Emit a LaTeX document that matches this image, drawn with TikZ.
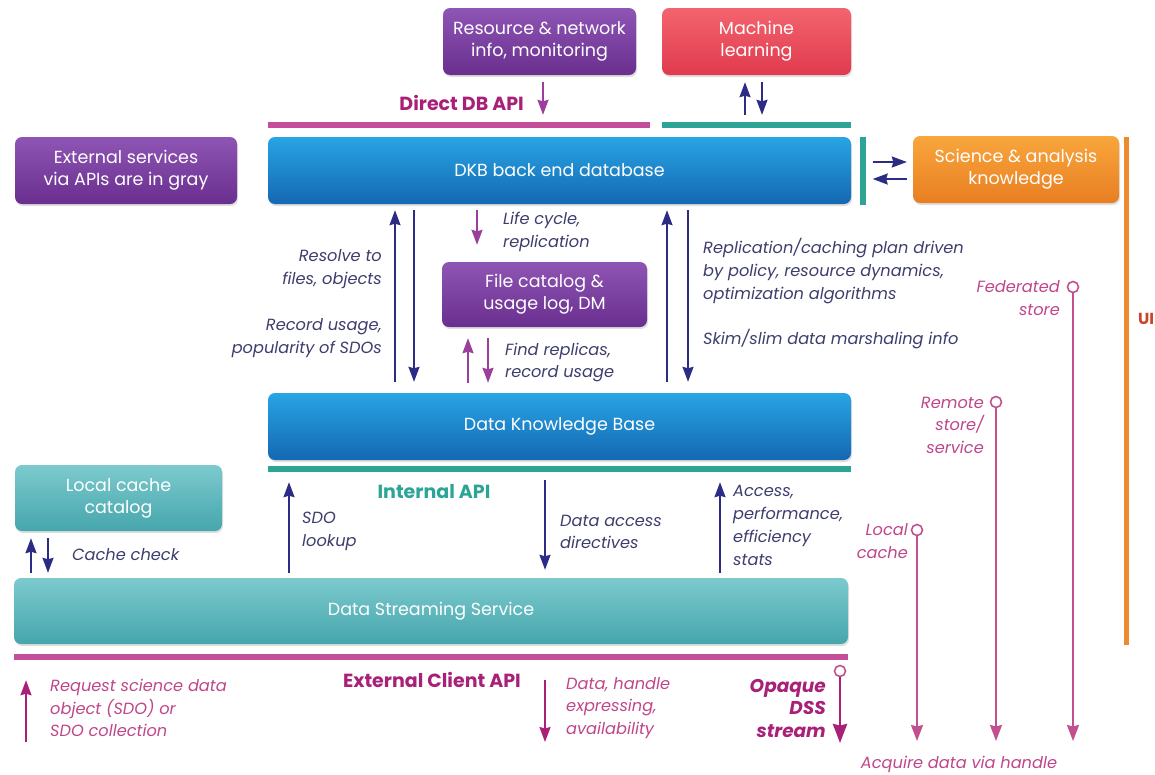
\documentclass[tikz,border=0pt]{standalone}
\usepackage{fontspec}
\setmainfont{Poppins}
\usetikzlibrary{arrows.meta,shadows}
\definecolor{pT}{HTML}{8E55B4}
\definecolor{pB}{HTML}{6A2F8E}
\definecolor{rT}{HTML}{F3646E}
\definecolor{rB}{HTML}{E03A4E}
\definecolor{bT}{HTML}{28A4E4}
\definecolor{bB}{HTML}{1468B2}
\definecolor{tT}{HTML}{7CCACD}
\definecolor{tB}{HTML}{45A6AC}
\definecolor{oT}{HTML}{F9A63C}
\definecolor{oB}{HTML}{E87E22}
\definecolor{navy}{HTML}{2C2C86}
\definecolor{lblnavy}{HTML}{3E3E6E}
\definecolor{parrow}{HTML}{9A3F9C}
\definecolor{magbar}{HTML}{C44E9A}
\definecolor{magtext}{HTML}{A82078}
\definecolor{pinkline}{HTML}{C2508F}
\definecolor{pinktext}{HTML}{C0468A}
\definecolor{tealbar}{HTML}{2DA596}
\definecolor{orangebar}{HTML}{EE8A2E}
\definecolor{uitext}{HTML}{C8472A}
\begin{document}
\begin{tikzpicture}[x=1pt,y=-1pt,
  box/.style={rounded corners=7pt, text=white, align=center, inner sep=0pt,
    font=\fontsize{17.5}{22}\selectfont,
    drop shadow={opacity=0.25,shadow xshift=1pt,shadow yshift=-2pt}},
  purplebox/.style={box, top color=pT, bottom color=pB},
  redbox/.style={box, top color=rT, bottom color=rB},
  bluebox/.style={box, top color=bT, bottom color=bB},
  tealbox/.style={box, top color=tT, bottom color=tB},
  orangebox/.style={box, top color=oT, bottom color=oB},
  bar/.style={rectangle, inner sep=0pt, draw=none},
  narr/.style={-{Stealth[length=15pt,width=11pt,inset=1.5pt]}, line width=1.7pt, draw=navy, fill=navy},
  parr/.style={-{Stealth[length=15pt,width=11pt,inset=1.5pt]}, line width=1.7pt, draw=parrow, fill=parrow},
  marr/.style={-{Stealth[length=15pt,width=11pt,inset=1.5pt]}, line width=1.7pt, draw=magtext, fill=magtext},
  pinkarr/.style={-{Stealth[length=16pt,width=12pt,inset=1.5pt]}, line width=1.7pt, draw=pinkline, fill=magtext},
  bigarr/.style={-{Stealth[length=19pt,width=14pt,inset=1.5pt]}, line width=2.8pt, draw=magtext, fill=magtext},
  ring/.style={circle, draw=pinkline, line width=1.6pt, fill=white, minimum size=11pt, inner sep=0pt},
  lbl/.style={inner sep=0pt, text=lblnavy, font=\fontsize{16.2}{22.8}\selectfont\itshape},
  plbl/.style={inner sep=0pt, text=pinktext, font=\fontsize{16.2}{22.5}\selectfont\itshape},
  api/.style={inner sep=0pt, font=\fontsize{19}{22}\selectfont\bfseries}
]
\useasboundingbox (0,0) rectangle (1155,774);
\fill[white] (0,0) rectangle (1155,774);

% boxes
\node[purplebox, minimum width=193pt, minimum height=67pt] (res) at (539.5,41.5) {Resource \& network\\info, monitoring};
\node[redbox, minimum width=189pt, minimum height=67pt] (ml) at (756.5,41.5) {Machine\\learning};
\node[purplebox, minimum width=222pt, minimum height=67pt] (ext) at (126,170.5) {External services\\via APIs are in gray};
\node[bluebox, minimum width=583pt, minimum height=67pt] (dkb) at (559.5,170.5) {DKB back end database};
\node[orangebox, minimum width=206pt, minimum height=67pt] (sci) at (1016,169.5) {Science \& analysis\\knowledge};
\node[purplebox, minimum width=205pt, minimum height=65pt] (fc) at (544.5,294.5) {File catalog \&\\usage log, DM};
\node[bluebox, minimum width=583pt, minimum height=67pt] (dkbase) at (559.5,426.5) {Data Knowledge Base};
\node[tealbox, minimum width=207pt, minimum height=66pt] (lcc) at (118.5,498) {Local cache\\catalog};
\node[tealbox, minimum width=834pt, minimum height=66pt] (dss) at (431,611) {Data Streaming Service};

% bars
\node[bar, fill=magbar, minimum width=382pt, minimum height=6pt] (dbapi) at (459,125) {};
\node[bar, fill=tealbar, minimum width=189pt, minimum height=6pt] (mlbar) at (756.5,125) {};
\node[bar, fill=tealbar, minimum width=6pt, minimum height=68pt] (vbar) at (862.5,171) {};
\node[bar, fill=orangebar, minimum width=5pt, minimum height=508pt] (obar) at (1126.5,391) {};
\node[bar, fill=tealbar, minimum width=583pt, minimum height=6pt] (ibar) at (559.5,469) {};
\node[bar, fill=magbar, minimum width=834pt, minimum height=6pt] (cbar) at (431,657) {};

% API labels
\node[api, text=magtext, anchor=east] (dbapilbl) at (524,103) {Direct DB API};
\node[api, text=tealbar] (intapi) at (434,492) {Internal API};
\node[api, text=magtext, anchor=east] (extapi) at (521,680) {External Client API};
\node[inner sep=0pt, font=\fontsize{16}{20}\selectfont\bfseries, text=uitext, anchor=west] (ui) at (1138,319) {UI};

% top arrows
\draw[parr, shorten <=7pt, shorten >=7pt] ([xshift=3.5pt]res.south) -- ([xshift=84pt]dbapi.north);
\draw[narr, shorten <=7pt, shorten >=7pt] ([xshift=-11.5pt]mlbar.north) -- ([xshift=-11.5pt]ml.south);
\draw[narr, shorten <=7pt, shorten >=7pt] ([xshift=5.5pt]ml.south) -- ([xshift=5.5pt]mlbar.north);
\draw[narr, shorten <=7pt, shorten >=6pt] ([yshift=9pt]vbar.east) -- ([yshift=7.5pt]sci.west);
\draw[narr, shorten <=6pt, shorten >=7pt] ([yshift=-9.5pt]sci.west) -- ([yshift=-8pt]vbar.east);

% middle arrows
\draw[narr, shorten <=11pt, shorten >=6pt] ([xshift=-164.5pt]dkbase.north) -- ([xshift=-164.5pt]dkb.south);
\draw[narr, shorten <=6pt, shorten >=11pt] ([xshift=-145.5pt]dkb.south) -- ([xshift=-145.5pt]dkbase.north);
\draw[parr, shorten <=6pt, shorten >=17pt] ([xshift=-82.5pt]dkb.south) -- ([xshift=-67.5pt]fc.north);
\draw[parr, shorten <=10pt, shorten >=11pt] ([xshift=-91.5pt]dkbase.north) -- ([xshift=-76.5pt]fc.south);
\draw[parr, shorten <=11pt, shorten >=10pt] ([xshift=-56.5pt]fc.south) -- ([xshift=-71.5pt]dkbase.north);
\draw[narr, shorten <=11pt, shorten >=6pt] ([xshift=107.5pt]dkbase.north) -- ([xshift=107.5pt]dkb.south);
\draw[narr, shorten <=6pt, shorten >=11pt] ([xshift=128.5pt]dkb.south) -- ([xshift=128.5pt]dkbase.north);

% lower arrows
\draw[narr, shorten <=5pt, shorten >=10pt] ([xshift=-142pt]dss.north) -- ([xshift=-270.5pt]ibar.south);
\draw[narr, shorten <=8pt, shorten >=8pt] ([xshift=-14.5pt]ibar.south) -- ([xshift=114pt]dss.north);
\draw[narr, shorten <=5pt, shorten >=10pt] ([xshift=289pt]dss.north) -- ([xshift=160.5pt]ibar.south);
\draw[narr, shorten <=5pt, shorten >=7pt] ([xshift=-400pt]dss.north) -- ([xshift=-87.5pt]lcc.south);
\draw[narr, shorten <=7pt, shorten >=5pt] ([xshift=-70.5pt]lcc.south) -- ([xshift=-383pt]dss.north);

% client arrows
\coordinate (req) at (26,742);
\coordinate (dh) at (545,742);
\draw[marr, shorten >=20pt] (req) -- ([xshift=-405pt]cbar.south);
\draw[marr, shorten <=20pt] ([xshift=114pt]cbar.south) -- (dh);

% handle streams
\node[ring] (op) at (840,671) {};
\node[ring] (lc) at (917,530) {};
\node[ring] (rs) at (996,402) {};
\node[ring] (fs) at (1073,287) {};
\coordinate (ope) at (840,743);
\coordinate (lce) at (917,741);
\coordinate (rse) at (996,741);
\coordinate (fse) at (1073,741);
\draw[bigarr] (op) -- (ope);
\draw[pinkarr] (lc) -- (lce);
\draw[pinkarr] (rs) -- (rse);
\draw[pinkarr] (fs) -- (fse);

% labels
\node[lbl, align=right, anchor=east] (l1) at (382,269.5) {Resolve to\\files, objects};
\node[lbl, align=right, anchor=east] (l2) at (382,338.5) {Record usage,\\popularity of SDOs};
\node[lbl, align=left, anchor=west] (l3) at (503,232) {Life cycle,\\replication};
\node[lbl, align=left, anchor=west] (l4) at (505,362.5) {Find replicas,\\record usage};
\node[lbl, align=left, anchor=west] (l5) at (703,271) {Replication/caching plan driven\\by policy, resource dynamics,\\optimization algorithms};
\node[lbl, align=left, anchor=west] (l6) at (703,339) {Skim/slim data marshaling info};
\node[lbl, align=left, anchor=west] (l7) at (302,531) {SDO\\lookup};
\node[lbl, align=left, anchor=west] (l8) at (560,532) {Data access\\directives};
\node[lbl, align=left, anchor=west] (l9) at (733,525.5) {Access,\\performance,\\efficiency\\stats};
\node[lbl, align=left, anchor=west] (l10) at (72,555) {Cache check};
\node[plbl, align=left, anchor=west] (l11) at (50,708) {Request science data\\object (SDO) or\\SDO collection};
\node[plbl, align=left, anchor=west] (l12) at (566,708) {Data, handle\\expressing,\\availability};
\node[inner sep=0pt, text=magtext, font=\fontsize{18.5}{22.5}\selectfont\bfseries\itshape, align=right, anchor=east] (l13) at (826,708) {Opaque\\DSS\\stream};
\node[plbl, align=right, anchor=east] (l14) at (908,541) {Local\\cache};
\node[plbl, align=right, anchor=east] (l15) at (984,425) {Remote\\store/\\service};
\node[plbl, align=right, anchor=east] (l16) at (1060,298) {Federated\\store};
\node[plbl, anchor=center] (l17) at (959,764) {Acquire data via handle};
\end{tikzpicture}
\end{document}
